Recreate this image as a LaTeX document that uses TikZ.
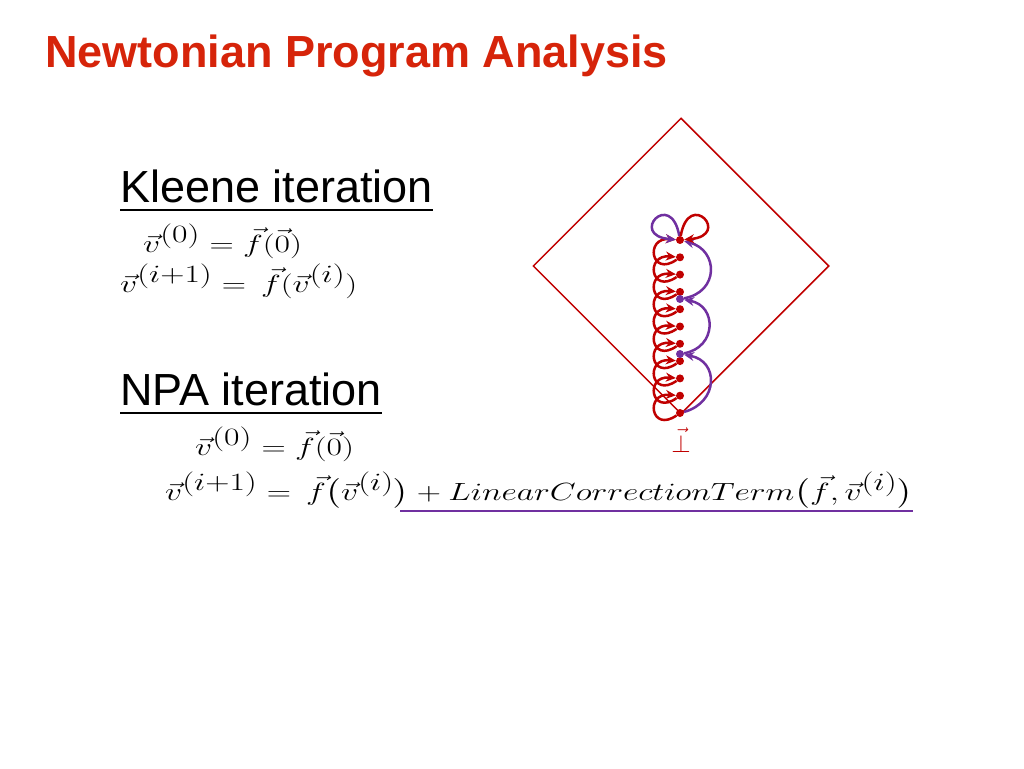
\documentclass[tikz,border=0pt]{standalone}
\usepackage{amsmath}
\usepackage{fontspec}
\usepackage{graphicx}
\setmainfont{Liberation Sans}
\usetikzlibrary{shapes.geometric,arrows.meta}
\definecolor{titlered}{RGB}{214,36,10}
\definecolor{npared}{RGB}{192,0,0}
\definecolor{npapurple}{RGB}{112,48,160}
\newcommand{\wideeq}[1]{\scalebox{1.35}[1]{$#1$}}
\begin{document}
\begin{tikzpicture}[
	x=1pt,y=1pt,
	title/.style={anchor=base west,inner sep=0,text=titlered,font=\fontsize{45}{54}\selectfont\bfseries},
	head/.style={anchor=base west,inner sep=0,font=\fontsize{45}{54}\selectfont},
	eq/.style={anchor=base west,inner sep=0,font=\fontsize{40}{48}\selectfont},
	rd/.style={circle,fill=npared,inner sep=0,minimum size=8pt},
	pd/.style={circle,fill=npapurple,inner sep=0,minimum size=8pt},
	ra/.style={draw=npared,line width=2.5pt,-{Stealth[length=10pt,width=9pt]}},
	pa/.style={draw=npapurple,line width=2.5pt,-{Stealth[length=10pt,width=9pt]}},
	]
\useasboundingbox (0,0) rectangle (1024,-768);
% title and formulas
\node [title] (ttl) at (45,-67) {Newtonian Program Analysis};
\node [head] (kl) at (120,-202) {Kleene iteration};
\draw [line width=2pt] ([yshift=-8pt]kl.base west) -- ([yshift=-8pt]kl.base east);
\node [eq] (k0) at (143,-252) {\wideeq{\vec{v}^{(0)} = \vec{f}(\vec{0})}};
\node [eq] (k1) at (120,-292) {\wideeq{\vec{v}^{(i+1)} = \,\vec{f}(\vec{v}^{(i)})}};
\node [head] (npa) at (120,-405) {NPA iteration};
\draw [line width=2pt] ([yshift=-8pt]npa.base west) -- ([yshift=-8pt]npa.base east);
\node [eq] (n0) at (195,-455) {\wideeq{\vec{v}^{(0)} = \vec{f}(\vec{0})}};
\node [eq] (n1) at (165,-500) {\wideeq{\vec{v}^{(i+1)} = \,\vec{f}\big(\vec{v}^{(i)}\big) + LinearCorrectionTerm\big(\vec{f},\vec{v}^{(i)}\big)}};
\draw [npapurple,line width=2pt] (400,-511) -- (913,-511);
% lattice
\node [diamond,draw=npared,line width=1.5pt,minimum width=296pt,minimum height=296pt,inner sep=0] (lat) at (681,-266) {};
\node [text=npared,font=\fontsize{24}{28}\selectfont] (bot) at (681,-440) {$\vec{\bot}$};
\foreach \i in {0,...,10}
	\node [rd] (d\i) at (680,-413+17.3*\i) {};
\node [pd] (p1) at (680,-354) {};
\node [pd] (p2) at (680,-299) {};
\foreach \i [count=\j] in {0,...,9}
	\draw [ra] (d\i) to[out=215,in=175,looseness=4] (d\j);
\draw [pa] (d0) to[out=15,in=-10,looseness=1.6] (p1);
\draw [pa] (p1) to[out=10,in=-10,looseness=1.6] (p2);
\draw [pa] (p2) to[out=10,in=-15,looseness=1.6] (d10);
\draw [pa] (d10) to[out=100,in=175,min distance=48pt] (d10);
\draw [ra] (d10) to[out=80,in=5,min distance=48pt] (d10);
\end{tikzpicture}
\end{document}
